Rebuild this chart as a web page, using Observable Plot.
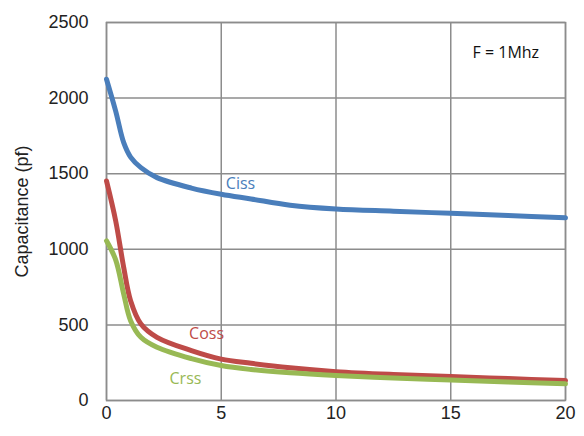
<!DOCTYPE html>
<html>
<head>
<meta charset="utf-8">
<script src="https://cdn.jsdelivr.net/npm/d3@7"></script>
<script src="https://cdn.jsdelivr.net/npm/@observablehq/plot@0.6"></script>
<style>
  html, body { margin: 0; padding: 0; background: #fff; }
  #chart svg { display: block; }
</style>
</head>
<body>
<div id="chart"></div>
<script>
const vds = [0, 0.4, 0.75, 1.05, 1.5, 2.2, 3.7, 5, 6.3, 8, 10, 12.5, 15, 17.5, 20];
const ciss = [2125, 1914, 1705, 1610, 1540, 1474, 1405, 1364, 1333, 1292, 1267, 1252, 1238, 1224, 1208];
const coss = [1452, 1188, 880, 660, 506, 418, 330, 274, 246, 216, 191, 172, 158, 145, 132];
const crss = [1056, 930, 704, 528, 418, 352, 277, 231, 205, 183, 165, 148, 136, 122, 110];
const seriesNames = ["Ciss", "Coss", "Crss"];
const seriesColors = ["#4A7EBB", "#BE4B48", "#98B954"];
const labelX = [5.84, 4.36, 3.44];
const labelY = [1432, 442, 145];
const xTicks = [0, 5, 10, 15, 20];
const yTicks = [0, 500, 1000, 1500, 2000, 2500];
const note = "F = 1Mhz";

const rows = [];
[ciss, coss, crss].forEach((vals, i) => {
  vals.forEach((v, j) => rows.push({series: seriesNames[i], x: vds[j], y: v}));
});
const labels = seriesNames.map((s, i) => ({series: s, x: labelX[i], y: labelY[i]}));

const chart = Plot.plot({
  width: 584,
  height: 436,
  marginLeft: 106,
  marginTop: 22,
  marginRight: 19,
  marginBottom: 36,
  style: {fontFamily: "'Liberation Sans', Arial, sans-serif", background: "#fff"},
  x: {domain: [0, 20]},
  y: {domain: [0, 2500]},
  color: {domain: seriesNames, range: seriesColors},
  marks: [
    Plot.gridX(xTicks, {stroke: "#8c8c8c", strokeOpacity: 1, strokeWidth: 1.5}),
    Plot.gridY(yTicks, {stroke: "#8c8c8c", strokeOpacity: 1, strokeWidth: 1.5}),
    Plot.frame({stroke: "#8c8c8c", strokeWidth: 1.5}),
    Plot.axisX(xTicks, {tickSize: 0, tickPadding: 6, fontSize: 18, fill: "#222", label: null, tickFormat: d => String(d)}),
    Plot.axisY(yTicks, {tickSize: 0, tickPadding: 18, fontSize: 18, fill: "#222", tickFormat: d => String(d),
      label: "Capacitance (pf)", labelAnchor: "center", labelArrow: "none", labelOffset: 91}),
    Plot.line(rows, {x: "x", y: "y", z: "series", stroke: "series", strokeWidth: 5, curve: "catmull-rom"}),
    Plot.text(labels, {x: "x", y: "y", text: "series", fill: "series", fontSize: 16, fontFamily: "'Open Sans', sans-serif"}),
    Plot.text([note], {x: 17.4, y: 2297, text: d => d, fill: "#111", fontSize: 16, fontFamily: "'Open Sans', sans-serif"})
  ]
});
document.getElementById("chart").appendChild(chart);
</script>
</body>
</html>
